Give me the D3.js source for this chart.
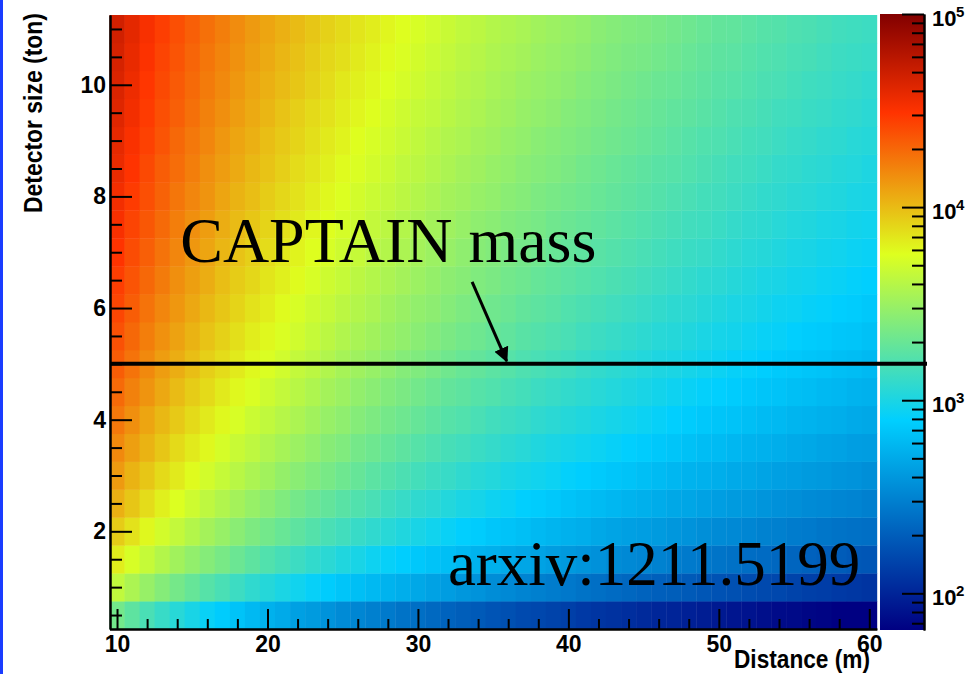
<!DOCTYPE html>
<meta charset="utf-8">
<script src="https://d3js.org/d3.v7.min.js"></script>
<style>
  body { margin: 0; background: #fff; }
  svg text { font-family: "Liberation Sans", Arial, sans-serif; font-weight: bold; fill: #000; }
</style>
<div id="my_dataviz"></div>
<script>

// bin centres (distance in m, detector size in ton)
var distances = [10,11,12,13,14,15,16,17,18,19,20,21,22,23,24,25,26,27,28,29,30,
                 31,32,33,34,35,36,37,38,39,40,41,42,43,44,45,46,47,48,49,50,
                 51,52,53,54,55,56,57,58,59,60];
var masses = [0.5,1,1.5,2,2.5,3,3.5,4,4.5,5,5.5,6,6.5,7,7.5,8,8.5,9,9.5,10,10.5,11];

// log10(events), one row per mass bin (0.5 t first)
var logEvents = [
  [3.34,3.26,3.18,3.11,3.05,2.99,2.93,2.88,2.83,2.78,2.74,2.70,2.65,2.62,2.58,2.54,2.51,2.48,2.45,2.41,2.39,2.36,2.33,2.30,2.28,2.25,2.23,2.20,2.18,2.16,2.14,2.11,2.09,2.07,2.05,2.03,2.01,2.00,1.98,1.96,1.94,1.92,1.91,1.89,1.87,1.86,1.84,1.83,1.81,1.80,1.78],
  [3.64,3.56,3.48,3.41,3.35,3.29,3.23,3.18,3.13,3.08,3.04,3.00,2.96,2.92,2.88,2.84,2.81,2.78,2.75,2.72,2.69,2.66,2.63,2.60,2.58,2.55,2.53,2.50,2.48,2.46,2.44,2.41,2.39,2.37,2.35,2.33,2.31,2.30,2.28,2.26,2.24,2.23,2.21,2.19,2.18,2.16,2.14,2.13,2.11,2.10,2.08],
  [3.82,3.73,3.66,3.59,3.52,3.46,3.41,3.36,3.31,3.26,3.21,3.17,3.13,3.09,3.06,3.02,2.99,2.95,2.92,2.89,2.86,2.83,2.81,2.78,2.75,2.73,2.70,2.68,2.66,2.63,2.61,2.59,2.57,2.55,2.53,2.51,2.49,2.47,2.45,2.44,2.42,2.40,2.38,2.37,2.35,2.34,2.32,2.30,2.29,2.27,2.26],
  [3.94,3.86,3.78,3.71,3.65,3.59,3.53,3.48,3.43,3.38,3.34,3.30,3.26,3.22,3.18,3.15,3.11,3.08,3.05,3.02,2.99,2.96,2.93,2.90,2.88,2.85,2.83,2.81,2.78,2.76,2.74,2.72,2.69,2.67,2.65,2.64,2.62,2.60,2.58,2.56,2.54,2.53,2.51,2.49,2.48,2.46,2.45,2.43,2.41,2.40,2.39],
  [4.04,3.96,3.88,3.81,3.75,3.69,3.63,3.58,3.53,3.48,3.44,3.39,3.35,3.31,3.28,3.24,3.21,3.18,3.14,3.11,3.08,3.06,3.03,3.00,2.98,2.95,2.93,2.90,2.88,2.86,2.83,2.81,2.79,2.77,2.75,2.73,2.71,2.69,2.68,2.66,2.64,2.62,2.61,2.59,2.57,2.56,2.54,2.53,2.51,2.50,2.48],
  [4.12,4.03,3.96,3.89,3.83,3.77,3.71,3.66,3.61,3.56,3.52,3.47,3.43,3.39,3.36,3.32,3.29,3.25,3.22,3.19,3.16,3.13,3.11,3.08,3.05,3.03,3.00,2.98,2.96,2.94,2.91,2.89,2.87,2.85,2.83,2.81,2.79,2.77,2.75,2.74,2.72,2.70,2.69,2.67,2.65,2.64,2.62,2.61,2.59,2.58,2.56],
  [4.18,4.10,4.03,3.96,3.89,3.83,3.78,3.72,3.67,3.63,3.58,3.54,3.50,3.46,3.42,3.39,3.35,3.32,3.29,3.26,3.23,3.20,3.17,3.15,3.12,3.10,3.07,3.05,3.02,3.00,2.98,2.96,2.94,2.92,2.90,2.88,2.86,2.84,2.82,2.80,2.79,2.77,2.75,2.74,2.72,2.70,2.69,2.67,2.66,2.64,2.63],
  [4.24,4.16,4.08,4.01,3.95,3.89,3.83,3.78,3.73,3.68,3.64,3.60,3.56,3.52,3.48,3.45,3.41,3.38,3.35,3.32,3.29,3.26,3.23,3.21,3.18,3.15,3.13,3.11,3.08,3.06,3.04,3.02,3.00,2.98,2.96,2.94,2.92,2.90,2.88,2.86,2.84,2.83,2.81,2.79,2.78,2.76,2.75,2.73,2.72,2.70,2.69],
  [4.29,4.21,4.14,4.07,4.00,3.94,3.89,3.83,3.78,3.74,3.69,3.65,3.61,3.57,3.53,3.50,3.46,3.43,3.40,3.37,3.34,3.31,3.28,3.26,3.23,3.21,3.18,3.16,3.13,3.11,3.09,3.07,3.05,3.03,3.01,2.99,2.97,2.95,2.93,2.91,2.90,2.88,2.86,2.84,2.83,2.81,2.80,2.78,2.77,2.75,2.74],
  [4.34,4.26,4.18,4.11,4.05,3.99,3.93,3.88,3.83,3.78,3.74,3.70,3.65,3.62,3.58,3.54,3.51,3.48,3.45,3.41,3.39,3.36,3.33,3.30,3.28,3.25,3.23,3.20,3.18,3.16,3.14,3.11,3.09,3.07,3.05,3.03,3.01,3.00,2.98,2.96,2.94,2.92,2.91,2.89,2.87,2.86,2.84,2.83,2.81,2.80,2.78],
  [4.38,4.30,4.22,4.15,4.09,4.03,3.97,3.92,3.87,3.82,3.78,3.74,3.70,3.66,3.62,3.58,3.55,3.52,3.49,3.46,3.43,3.40,3.37,3.34,3.32,3.29,3.27,3.24,3.22,3.20,3.18,3.15,3.13,3.11,3.09,3.07,3.05,3.04,3.02,3.00,2.98,2.97,2.95,2.93,2.92,2.90,2.88,2.87,2.85,2.84,2.82],
  [4.42,4.34,4.26,4.19,4.13,4.07,4.01,3.96,3.91,3.86,3.82,3.77,3.73,3.69,3.66,3.62,3.59,3.56,3.52,3.49,3.46,3.44,3.41,3.38,3.36,3.33,3.31,3.28,3.26,3.24,3.21,3.19,3.17,3.15,3.13,3.11,3.09,3.07,3.06,3.04,3.02,3.00,2.99,2.97,2.95,2.94,2.92,2.91,2.89,2.88,2.86],
  [4.45,4.37,4.30,4.23,4.16,4.10,4.05,3.99,3.94,3.90,3.85,3.81,3.77,3.73,3.69,3.66,3.62,3.59,3.56,3.53,3.50,3.47,3.44,3.42,3.39,3.37,3.34,3.32,3.29,3.27,3.25,3.23,3.21,3.19,3.17,3.15,3.13,3.11,3.09,3.07,3.06,3.04,3.02,3.00,2.99,2.97,2.96,2.94,2.93,2.91,2.90],
  [4.49,4.40,4.33,4.26,4.19,4.13,4.08,4.02,3.97,3.93,3.88,3.84,3.80,3.76,3.73,3.69,3.66,3.62,3.59,3.56,3.53,3.50,3.48,3.45,3.42,3.40,3.37,3.35,3.33,3.30,3.28,3.26,3.24,3.22,3.20,3.18,3.16,3.14,3.12,3.11,3.09,3.07,3.05,3.04,3.02,3.00,2.99,2.97,2.96,2.94,2.93],
  [4.52,4.43,4.36,4.29,4.22,4.16,4.11,4.05,4.00,3.96,3.91,3.87,3.83,3.79,3.76,3.72,3.69,3.65,3.62,3.59,3.56,3.53,3.51,3.48,3.45,3.43,3.40,3.38,3.36,3.33,3.31,3.29,3.27,3.25,3.23,3.21,3.19,3.17,3.15,3.14,3.12,3.10,3.08,3.07,3.05,3.03,3.02,3.00,2.99,2.97,2.96],
  [4.54,4.46,4.39,4.32,4.25,4.19,4.14,4.08,4.03,3.99,3.94,3.90,3.86,3.82,3.78,3.75,3.71,3.68,3.65,3.62,3.59,3.56,3.53,3.51,3.48,3.46,3.43,3.41,3.38,3.36,3.34,3.32,3.30,3.28,3.26,3.24,3.22,3.20,3.18,3.16,3.15,3.13,3.11,3.09,3.08,3.06,3.05,3.03,3.02,3.00,2.99],
  [4.57,4.49,4.41,4.34,4.28,4.22,4.16,4.11,4.06,4.01,3.97,3.93,3.88,3.85,3.81,3.77,3.74,3.71,3.68,3.64,3.62,3.59,3.56,3.53,3.51,3.48,3.46,3.43,3.41,3.39,3.37,3.34,3.32,3.30,3.28,3.26,3.24,3.23,3.21,3.19,3.17,3.15,3.14,3.12,3.10,3.09,3.07,3.06,3.04,3.03,3.01],
  [4.59,4.51,4.44,4.37,4.30,4.24,4.19,4.13,4.08,4.04,3.99,3.95,3.91,3.87,3.83,3.80,3.76,3.73,3.70,3.67,3.64,3.61,3.58,3.56,3.53,3.51,3.48,3.46,3.43,3.41,3.39,3.37,3.35,3.33,3.31,3.29,3.27,3.25,3.23,3.21,3.20,3.18,3.16,3.15,3.13,3.11,3.10,3.08,3.07,3.05,3.04],
  [4.62,4.54,4.46,4.39,4.33,4.27,4.21,4.16,4.11,4.06,4.02,3.97,3.93,3.89,3.86,3.82,3.79,3.76,3.72,3.69,3.66,3.64,3.61,3.58,3.56,3.53,3.51,3.48,3.46,3.44,3.41,3.39,3.37,3.35,3.33,3.31,3.29,3.27,3.26,3.24,3.22,3.20,3.19,3.17,3.15,3.14,3.12,3.11,3.09,3.08,3.06],
  [4.64,4.56,4.48,4.41,4.35,4.29,4.23,4.18,4.13,4.08,4.04,4.00,3.96,3.92,3.88,3.84,3.81,3.78,3.75,3.72,3.69,3.66,3.63,3.60,3.58,3.55,3.53,3.50,3.48,3.46,3.44,3.41,3.39,3.37,3.35,3.33,3.31,3.30,3.28,3.26,3.24,3.23,3.21,3.19,3.18,3.16,3.14,3.13,3.11,3.10,3.08],
  [4.66,4.58,4.50,4.43,4.37,4.31,4.25,4.20,4.15,4.10,4.06,4.02,3.98,3.94,3.90,3.87,3.83,3.80,3.77,3.74,3.71,3.68,3.65,3.62,3.60,3.57,3.55,3.53,3.50,3.48,3.46,3.44,3.41,3.39,3.37,3.36,3.34,3.32,3.30,3.28,3.26,3.25,3.23,3.21,3.20,3.18,3.17,3.15,3.13,3.12,3.11],
  [4.68,4.60,4.52,4.45,4.39,4.33,4.27,4.22,4.17,4.12,4.08,4.04,4.00,3.96,3.92,3.89,3.85,3.82,3.79,3.76,3.73,3.70,3.67,3.64,3.62,3.59,3.57,3.55,3.52,3.50,3.48,3.46,3.43,3.41,3.39,3.38,3.36,3.34,3.32,3.30,3.28,3.27,3.25,3.23,3.22,3.20,3.19,3.17,3.15,3.14,3.13]
];

// axis ticks
var xMajorTicks = [10,20,30,40,50,60];
var xMinorTicks = [12,14,16,18,22,24,26,28,32,34,36,38,42,44,46,48,52,54,56,58];
var yMajorTicks = [2,4,6,8,10];
var yMinorTicks = [0.5,1,1.5,2.5,3,3.5,4.5,5,5.5,6.5,7,7.5,8.5,9,9.5,10.5,11];
var zMajorTicks = [1e2,1e3,1e4,1e5];
var zExtent = [Math.pow(10, 1.81), 1e5];

// annotation
var captainMass = 5;

var width = 973, height = 674;

var svg = d3.select("#my_dataviz")
  .append("svg")
  .attr("width", width)
  .attr("height", height);

// blue strip of the slide at the left edge
svg.append("rect")
  .attr("x", 0).attr("y", 0)
  .attr("width", 3).attr("height", height)
  .attr("fill", "#1a3cff");

var x = d3.scaleLinear().domain([9.5, 60.5]).range([109.5, 876.8]);
var y = d3.scaleLinear().domain([0.25, 11.25]).range([629, 15]);
var z = d3.scaleLog().domain(zExtent).range([630, 14]);

// ROOT style rainbow palette on log z
var stops = [0, 0.34, 0.61, 0.84, 1];
var stopColors = ["rgb(0,0,130)", "rgb(0,207,255)", "rgb(222,255,31)", "rgb(255,51,0)", "rgb(130,0,0)"];
var palette = d3.scaleLinear().domain(stops).range(stopColors).clamp(true);
var frac = d3.scaleLinear()
  .domain([Math.log10(zExtent[0]), Math.log10(zExtent[1])])
  .range([0, 1]);

// flatten the grid into cells
var cells = [];
logEvents.forEach(function(row, i) {
  row.forEach(function(v, j) {
    cells.push({ d: distances[j], m: masses[i], v: v });
  });
});

var cw = x(10.5) - x(9.5), ch = y(0.25) - y(0.75);

svg.append("g")
  .selectAll("rect")
  .data(cells)
  .enter()
  .append("rect")
  .attr("x", function(d) { return x(d.d - 0.5); })
  .attr("y", function(d) { return y(d.m + 0.25); })
  .attr("width", cw + 0.4)
  .attr("height", ch + 0.4)
  .attr("fill", function(d) { return palette(frac(d.v)); });

// axes, ticks drawn inside the frame like ROOT
function styleAxis(g) {
  g.selectAll("line").attr("stroke", "#000").attr("stroke-width", 2);
  g.select(".domain").attr("stroke", "#000").attr("stroke-width", 2);
  g.attr("font-family", null).attr("font-size", null);
  g.selectAll("text").style("font-size", "23px");
}

svg.append("g")
  .attr("transform", "translate(0,629)")
  .call(d3.axisBottom(x).tickValues(xMinorTicks).tickSize(-10).tickSizeOuter(0).tickFormat(""))
  .call(styleAxis);
svg.append("g")
  .attr("transform", "translate(0,629)")
  .call(d3.axisBottom(x).tickValues(xMajorTicks).tickSize(-20).tickSizeOuter(0).tickPadding(7))
  .call(styleAxis);

svg.append("g")
  .attr("transform", "translate(110,0)")
  .call(d3.axisLeft(y).tickValues(yMinorTicks).tickSize(-12).tickSizeOuter(0).tickFormat(""))
  .call(styleAxis);
svg.append("g")
  .attr("transform", "translate(110,0)")
  .call(d3.axisLeft(y).tickValues(yMajorTicks).tickSize(-22).tickSizeOuter(0).tickPadding(4))
  .call(styleAxis);

// axis titles
svg.append("text")
  .attr("x", 870).attr("y", 668)
  .attr("text-anchor", "end")
  .attr("textLength", 136)
  .attr("lengthAdjust", "spacingAndGlyphs")
  .style("font-size", "25px")
  .text("Distance (m)");

svg.append("text")
  .attr("transform", "translate(42,13) rotate(-90)")
  .attr("text-anchor", "end")
  .attr("textLength", 200)
  .attr("lengthAdjust", "spacingAndGlyphs")
  .style("font-size", "25px")
  .text("Detector size (ton)");

// colour bar
var defs = svg.append("defs");
var grad = defs.append("linearGradient")
  .attr("id", "pal")
  .attr("x1", 0).attr("y1", 1).attr("x2", 0).attr("y2", 0);
grad.selectAll("stop")
  .data(stops)
  .enter()
  .append("stop")
  .attr("offset", function(d) { return d; })
  .attr("stop-color", function(d, i) { return stopColors[i]; });

svg.append("rect")
  .attr("x", 880).attr("y", 14)
  .attr("width", 44).attr("height", 616)
  .attr("fill", "url(#pal)");

var zMinor = z.ticks().filter(function(t) { return zMajorTicks.indexOf(t) < 0; });
svg.append("g")
  .attr("transform", "translate(924,0)")
  .call(d3.axisRight(z).tickValues(zMinor).tickSize(-12).tickSizeOuter(0).tickFormat(""))
  .call(styleAxis);
svg.append("g")
  .attr("transform", "translate(924,0)")
  .call(d3.axisRight(z).tickValues(zMajorTicks).tickSize(-22).tickSizeOuter(0).tickFormat(""))
  .call(styleAxis);

var zLab = svg.append("g");
zMajorTicks.forEach(function(t) {
  zLab.append("text")
    .attr("x", 932).attr("y", z(t) + 12)
    .style("font-size", "22px")
    .text("10");
  zLab.append("text")
    .attr("x", 956).attr("y", z(t) + 3)
    .style("font-size", "15px")
    .text(Math.round(Math.log10(t)));
});

// CAPTAIN mass line
svg.append("line")
  .attr("x1", 110).attr("x2", 927)
  .attr("y1", y(captainMass)).attr("y2", y(captainMass))
  .attr("stroke", "#000")
  .attr("stroke-width", 4);

defs.append("marker")
  .attr("id", "arrow")
  .attr("viewBox", "0 0 10 10")
  .attr("refX", 9).attr("refY", 5)
  .attr("markerWidth", 5).attr("markerHeight", 5)
  .attr("orient", "auto")
  .append("path")
  .attr("d", "M0,0 L10,5 L0,10 z")
  .attr("fill", "#000");

svg.append("line")
  .attr("x1", x(33.6)).attr("y1", y(6.47))
  .attr("x2", x(35.9)).attr("y2", y(5.05))
  .attr("stroke", "#000")
  .attr("stroke-width", 3)
  .attr("marker-end", "url(#arrow)");

svg.append("text")
  .attr("x", x(14.2)).attr("y", y(6.82))
  .style("font-family", "'Liberation Serif', 'Times New Roman', serif")
  .style("font-weight", "normal")
  .style("font-size", "64px")
  .text("CAPTAIN mass");

svg.append("text")
  .attr("x", x(59.4)).attr("y", y(1.04))
  .attr("text-anchor", "end")
  .style("font-family", "'Liberation Serif', 'Times New Roman', serif")
  .style("font-weight", "normal")
  .style("font-size", "63px")
  .text("arxiv:1211.5199");

</script>
